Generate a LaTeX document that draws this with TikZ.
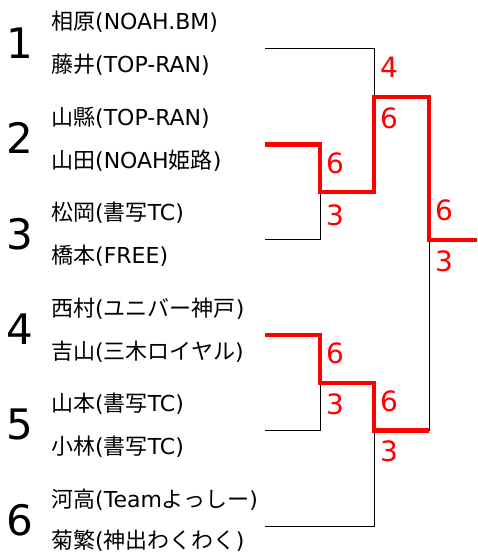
\documentclass[tikz,border=0pt]{standalone}
\usepackage{fontspec}
\setmainfont{DejaVu Sans}
\newfontfamily\cjk{Noto Sans CJK JP}
\begin{document}
\begin{tikzpicture}[x=1pt,y=-1pt,
  namelbl/.style={anchor=base west, inner sep=0pt, font=\fontsize{22}{22}\selectfont},
  seedlbl/.style={anchor=center, inner sep=0pt, font=\fontsize{42}{42}\selectfont},
  scorelbl/.style={anchor=west, inner sep=0pt, text=red, font=\fontsize{28}{28}\selectfont},
  loser/.style={draw=black, line width=1pt},
  winner/.style={draw=red, line width=4.3pt, line join=miter}]
\useasboundingbox (0,0) rectangle (477,553);
% seeds
\node[seedlbl] (s1) at (20,43) {1};
\node[seedlbl] (s2) at (20,138.4) {2};
\node[seedlbl] (s3) at (20,233.8) {3};
\node[seedlbl] (s4) at (20,329.2) {4};
\node[seedlbl] (s5) at (20,424.6) {5};
\node[seedlbl] (s6) at (20,520) {6};
% names
\node[namelbl] (n1a) at (51,30) {{\cjk 相原}(NOAH.BM)};
\node[namelbl] (n1b) at (51,73) {{\cjk 藤井}(TOP-RAN)};
\node[namelbl] (n2a) at (51,125.4) {{\cjk 山縣}(TOP-RAN)};
\node[namelbl] (n2b) at (51,168.4) {{\cjk 山田}(NOAH{\cjk 姫路})};
\node[namelbl] (n3a) at (51,220.8) {{\cjk 松岡}({\cjk 書写}TC)};
\node[namelbl] (n3b) at (51,263.8) {{\cjk 橋本}(FREE)};
\node[namelbl] (n4a) at (51,316.2) {{\cjk 西村}({\cjk ユニバー神戸})};
\node[namelbl] (n4b) at (51,359.2) {{\cjk 吉山}({\cjk 三木ロイヤル})};
\node[namelbl] (n5a) at (51,411.6) {{\cjk 山本}({\cjk 書写}TC)};
\node[namelbl] (n5b) at (51,454.6) {{\cjk 小林}({\cjk 書写}TC)};
\node[namelbl] (n6a) at (51,507) {{\cjk 河高}(Team{\cjk よっしー})};
\node[namelbl] (n6b) at (51,548) {{\cjk 菊繁}({\cjk 神出わくわく})};
% bracket coordinates
\coordinate (p1) at (265,49);
\coordinate (p2) at (265,144.4);
\coordinate (p3) at (265,239.8);
\coordinate (p4) at (265,335.2);
\coordinate (p5) at (265,430.6);
\coordinate (p6) at (265,526);
\coordinate (jA) at (320,192.1);
\coordinate (jB) at (320,382.9);
\coordinate (jC) at (374,96.7);
\coordinate (jD) at (374,430.6);
\coordinate (jF) at (429,239.8);
\coordinate (champ) at (477,239.8);
% losers' lines
\draw[loser] (p1) -| (jC);
\draw[loser] (p3) -| (jA);
\draw[loser] (p5) -| (jB);
\draw[loser] (p6) -| (jD);
\draw[loser] (jF) -- (jF |- jD);
% winners' lines
\draw[winner] (p2) -| (jA) -- (jC |- jA) -- (jC) -| (jF) -- (champ);
\draw[winner] (p4) -| (jB) -- (jD |- jB) -- (jD) -- (jF |- jD);
% scores (yshift is in page direction: positive = up)
\node[scorelbl] (a1) at ([xshift=6pt,yshift=29pt]jA) {6};
\node[scorelbl] (a2) at ([xshift=6pt,yshift=-23pt]jA) {3};
\node[scorelbl] (b1) at ([xshift=6pt,yshift=30pt]jB) {6};
\node[scorelbl] (b2) at ([xshift=6pt,yshift=-21pt]jB) {3};
\node[scorelbl] (c1) at ([xshift=6pt,yshift=29pt]jC) {4};
\node[scorelbl] (c2) at ([xshift=6pt,yshift=-22pt]jC) {6};
\node[scorelbl] (d1) at ([xshift=6pt,yshift=29pt]jD) {6};
\node[scorelbl] (d2) at ([xshift=6pt,yshift=-21pt]jD) {3};
\node[scorelbl] (f1) at ([xshift=6pt,yshift=29pt]jF) {6};
\node[scorelbl] (f2) at ([xshift=6pt,yshift=-22pt]jF) {3};
\end{tikzpicture}
\end{document}
